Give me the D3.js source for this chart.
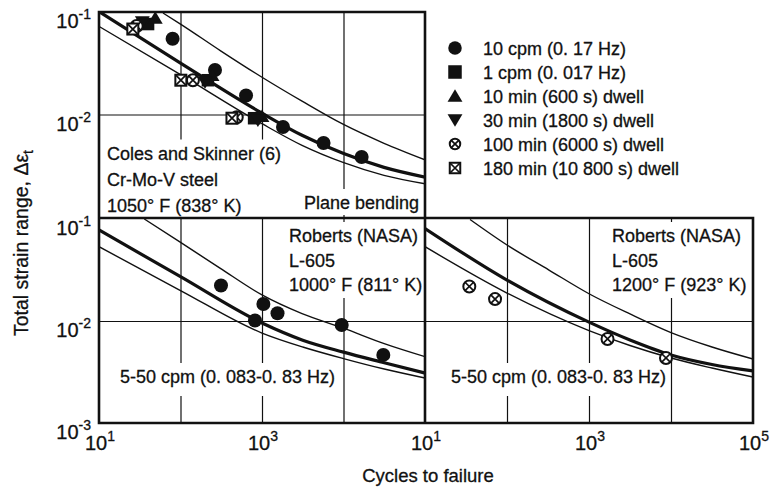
<!DOCTYPE html>
<html>
<head>
<meta charset="utf-8">
<script src="https://cdn.jsdelivr.net/npm/d3@7/dist/d3.min.js"></script>
<style>
  html, body { margin: 0; padding: 0; background: #fff; }
  svg text { font-family: "Liberation Sans", Arial, Helvetica, sans-serif; fill: #111; stroke: #111; stroke-width: 0.3px; }
</style>
</head>
<body>
<svg id="chart" width="772" height="493"></svg>
<script>
// ---------------------------------------------------------------- data
// Test conditions shown in the legend and the marker for each
const legendLabels = ["10 cpm (0. 17 Hz)", "1 cpm (0. 017 Hz)", "10 min (600 s) dwell",
  "30 min (1800 s) dwell", "100 min (6000 s) dwell", "180 min (10 800 s) dwell"];
const legendMarkers = ["circle", "square", "triangleUp", "triangleDown", "circleX", "squareX"];

// Axis ticks and grid
const cycleTicksLeft = [1e1, 1e3];
const cycleTicksRight = [1e1, 1e3, 1e5];
const cycleGrid = [1e2, 1e3, 1e4];
const strainTicksTop = [1e-1, 1e-2];
const strainTicksBottom = [1e-1, 1e-2, 1e-3];
const strainGrid = [1e-2];

// Coles and Skinner, Cr-Mo-V steel, 1050 F: [cycles to failure, total strain range]
const coles10cpm = [[80, 0.0548], [265, 0.0272], [637, 0.0153], [1810, 0.00755], [5690, 0.00527], [16700, 0.00385]];
const coles1cpm = [[40, 0.0763], [217, 0.0216], [800, 0.0092]];
const coles10min = [[49, 0.0873], [244, 0.0242], [1000, 0.0096]];
const coles30min = [[34, 0.0798], [200, 0.0207], [890, 0.0088]];
const coles100min = [[29, 0.073], [142, 0.0216], [490, 0.0094]];
const coles180min = [[26, 0.0682], [101, 0.0216], [428, 0.0092]];
// predicted life band (upper bound, mean, lower bound)
const colesUpper = [[61, 0.0978], [100, 0.0763], [314, 0.0416], [1000, 0.0231], [3100, 0.0135], [9860, 0.00804], [31400, 0.00524], [1e5, 0.00362]];
const colesMean = [[10, 0.101], [100, 0.0317], [1000, 0.0103], [3100, 0.00627], [9860, 0.00418], [31400, 0.00305], [1e5, 0.00245]];
const colesLower = [[10, 0.0724], [100, 0.0245], [1000, 0.00813], [3100, 0.0050], [9860, 0.00341], [31400, 0.00255], [1e5, 0.00211]];

// Roberts (NASA), L-605, 1000 F, 5-50 cpm
const l605At1000 = [[314, 0.0223], [820, 0.0101], [1040, 0.0147], [1550, 0.0119], [9510, 0.00914], [30800, 0.00465]];
const l605At1000Upper = [[36, 0.1], [97, 0.06], [305, 0.033], [1000, 0.018], [3100, 0.0118], [10000, 0.0085], [31600, 0.006], [1e5, 0.00447]];
const l605At1000Mean = [[10, 0.078], [100, 0.0272], [1000, 0.00955], [3160, 0.00648], [10000, 0.00495], [31600, 0.0039], [1e5, 0.00309]];
const l605At1000Lower = [[10, 0.0535], [100, 0.0199], [1000, 0.00762], [3160, 0.00556], [10000, 0.00428], [31600, 0.00338], [1e5, 0.00276]];

// Roberts (NASA), L-605, 1200 F, 5-50 cpm
const l605At1200 = [[34.7, 0.0218], [71.5, 0.0164], [1683, 0.00667], [8690, 0.00434]];
const l605At1200Upper = [[35.4, 0.0989], [100, 0.0556], [325, 0.0316], [1000, 0.0185], [3162, 0.01172], [1e4, 0.0077], [31600, 0.00556], [1e5, 0.00424]];
const l605At1200Mean = [[10, 0.0807], [100, 0.0252], [1000, 0.00975], [3160, 0.00652], [1e4, 0.00465], [31600, 0.00375], [1e5, 0.00324]];
const l605At1200Lower = [[10, 0.0535], [100, 0.0188], [1000, 0.00805], [3160, 0.00575], [1e4, 0.00434], [31600, 0.00346], [1e5, 0.00282]];

// ---------------------------------------------------------------- layout
const ink = "#111";
const svg = d3.select("#chart");
const defs = svg.append("defs");
const gridLayer = svg.append("g");
const bgLayer = svg.append("g");
const curveLayer = svg.append("g");
const textLayer = svg.append("g");
const markLayer = svg.append("g");
const frameLayer = svg.append("g");

const xLeft = d3.scaleLog().domain([1e1, 1e5]).range([99, 425]);
const xRight = d3.scaleLog().domain([1e1, 1e5]).range([425, 753]);
const yTop = d3.scaleLog().domain([1e-1, 1e-3]).range([12, 217]);
const yBottom = d3.scaleLog().domain([1e-1, 1e-3]).range([219, 423]);

const panels = [
  { id: "coles", x: xLeft, y: yTop, x0: 99, x1: 425, y0: 12, y1: 218,
    band: [colesUpper, colesMean, colesLower],
    sets: [[coles10cpm, "circle"], [coles1cpm, "square"], [coles10min, "triangleUp"],
           [coles30min, "triangleDown"], [coles100min, "circleX"], [coles180min, "squareX"]] },
  { id: "l605a", x: xLeft, y: yBottom, x0: 99, x1: 425, y0: 218, y1: 423,
    band: [l605At1000Upper, l605At1000Mean, l605At1000Lower],
    sets: [[l605At1000, "circle"]] },
  { id: "l605b", x: xRight, y: yBottom, x0: 425, x1: 753, y0: 218, y1: 423,
    band: [l605At1200Upper, l605At1200Mean, l605At1200Lower],
    sets: [[l605At1200, "circleX"]] }
];

function marker(g, kind, cx, cy, s) {
  const h = s / 2;
  if (kind === "circle") {
    g.append("circle").attr("cx", cx).attr("cy", cy).attr("r", h).attr("fill", ink);
  } else if (kind === "square") {
    g.append("rect").attr("x", cx - h).attr("y", cy - h).attr("width", s).attr("height", s).attr("fill", ink);
  } else if (kind === "triangleUp") {
    g.append("path").attr("d", `M${cx},${cy - h}L${cx + h * 1.1},${cy + h * 0.85}L${cx - h * 1.1},${cy + h * 0.85}Z`).attr("fill", ink);
  } else if (kind === "triangleDown") {
    g.append("path").attr("d", `M${cx},${cy + h}L${cx + h * 1.1},${cy - h * 0.85}L${cx - h * 1.1},${cy - h * 0.85}Z`).attr("fill", ink);
  } else if (kind === "circleX") {
    const r = h - 1;
    g.append("circle").attr("cx", cx).attr("cy", cy).attr("r", r)
      .attr("fill", "#fff").attr("stroke", ink).attr("stroke-width", 2);
    const k = r * 0.7071;
    g.append("path").attr("d", `M${cx - k},${cy - k}L${cx + k},${cy + k}M${cx + k},${cy - k}L${cx - k},${cy + k}`)
      .attr("stroke", ink).attr("stroke-width", 1.7);
  } else if (kind === "squareX") {
    const a = h - 1;
    g.append("rect").attr("x", cx - a).attr("y", cy - a).attr("width", 2 * a).attr("height", 2 * a)
      .attr("fill", "#fff").attr("stroke", ink).attr("stroke-width", 2);
    g.append("path").attr("d", `M${cx - a},${cy - a}L${cx + a},${cy + a}M${cx + a},${cy - a}L${cx - a},${cy + a}`)
      .attr("stroke", ink).attr("stroke-width", 1.7);
  }
}

const markerSize = { circle: 14, square: 12.5, triangleUp: 13.5, triangleDown: 13.5, circleX: 14, squareX: 13 };

panels.forEach(p => {
  // grid
  gridLayer.append("g")
    .attr("transform", `translate(0,${p.y1})`)
    .call(d3.axisBottom(p.x).tickValues(cycleGrid).tickSize(-(p.y1 - p.y0)).tickFormat(""))
    .call(g => g.select(".domain").remove())
    .call(g => g.selectAll("line").attr("stroke", ink).attr("stroke-width", 1.2));
  gridLayer.append("g")
    .attr("transform", `translate(${p.x0},0)`)
    .call(d3.axisLeft(p.y).tickValues(strainGrid).tickSize(-(p.x1 - p.x0)).tickFormat(""))
    .call(g => g.select(".domain").remove())
    .call(g => g.selectAll("line").attr("stroke", ink).attr("stroke-width", 1.2));

  // life band curves
  defs.append("clipPath").attr("id", "clip-" + p.id)
    .append("rect").attr("x", p.x0).attr("y", p.y0).attr("width", p.x1 - p.x0).attr("height", p.y1 - p.y0);
  const line = d3.line().x(d => p.x(d[0])).y(d => p.y(d[1])).curve(d3.curveMonotoneX);
  const cg = curveLayer.append("g").attr("clip-path", `url(#clip-${p.id})`);
  cg.selectAll("path").data(p.band).join("path")
    .attr("d", line).attr("fill", "none").attr("stroke", ink)
    .attr("stroke-width", (d, i) => i === 1 ? 3.2 : 1.4);

  // test points
  p.sets.forEach(([data, kind]) => {
    data.forEach(d => marker(markLayer, kind, p.x(d[0]), p.y(d[1]), markerSize[kind]));
  });
});

// ---------------------------------------------------------------- annotations
function note(lines, x, y, step, anchor, padBottom) {
  const t = textLayer.append("text").attr("font-size", 18).attr("text-anchor", anchor || "start");
  lines.forEach((s, i) => t.append("tspan").attr("x", x).attr("y", y + i * step).text(s));
  const b = t.node().getBBox();
  bgLayer.append("rect").attr("x", b.x - 3).attr("y", b.y - 4)
    .attr("width", b.width + 6).attr("height", b.height + 4 + (padBottom || 4)).attr("fill", "#fff");
}
note(["Coles and Skinner (6)", "Cr-Mo-V steel", "1050\u00B0 F (838\u00B0 K)"], 107, 159.5, 26.3, "start", 2);
note(["Plane bending"], 419, 209, 0, "end", 2);
note(["Roberts (NASA)", "L-605", "1000\u00B0 F (811\u00B0 K)"], 289, 242, 24.5, "start", 3);
note(["5-50 cpm (0. 083-0. 83 Hz)"], 120, 383, 0, "start", 9);
note(["Roberts (NASA)", "L-605", "1200\u00B0 F (923\u00B0 K)"], 612, 242, 24.5, "start", 3);
note(["5-50 cpm (0. 083-0. 83 Hz)"], 451, 383, 0, "start", 9);

// ---------------------------------------------------------------- legend
const legend = textLayer.append("g");
legendLabels.forEach((label, i) => {
  const cy = 48 + i * 24;
  const kind = legendMarkers[i];
  marker(legend, kind, 455, cy, kind === "circleX" || kind === "squareX" ? 12.5 : 13.5);
  legend.append("text").attr("x", 483).attr("y", cy + 6.5).attr("font-size", 18).text(label);
});

// ---------------------------------------------------------------- axes labels
function powerLabel(sel, exp) {
  sel.text("10");
  sel.append("tspan").attr("dy", -9).attr("font-size", 14).text(exp < 0 ? "-" + (-exp) : String(exp));
}
[[yTop, strainTicksTop], [yBottom, strainTicksBottom]].forEach(([y, ticks]) => {
  ticks.forEach(t => {
    textLayer.append("text").attr("x", 91).attr("y", y(t) + 16).attr("font-size", 20)
      .attr("text-anchor", "end").call(powerLabel, Math.round(Math.log10(t)));
  });
});
[[xLeft, cycleTicksLeft], [xRight, cycleTicksRight]].forEach(([x, ticks]) => {
  ticks.forEach(t => {
    textLayer.append("text").attr("x", x(t) + 1).attr("y", 450).attr("font-size", 20)
      .attr("text-anchor", "middle").call(powerLabel, Math.round(Math.log10(t)));
  });
});

textLayer.append("text").attr("x", 428).attr("y", 482).attr("font-size", 18.5)
  .attr("text-anchor", "middle").text("Cycles to failure");

const yTitle = textLayer.append("text").attr("transform", "translate(28,243) rotate(-90)")
  .attr("font-size", 19.5).attr("text-anchor", "middle");
yTitle.append("tspan").text("Total strain range, \u0394\u03B5");
yTitle.append("tspan").attr("dy", 5).attr("font-size", 14).text("t");

// ---------------------------------------------------------------- frames
frameLayer.append("path")
  .attr("d", "M99,12H425V423H99ZM99,218H753V423H425")
  .attr("fill", "none").attr("stroke", ink).attr("stroke-width", 2.6).attr("stroke-linejoin", "miter");
</script>
</body>
</html>
